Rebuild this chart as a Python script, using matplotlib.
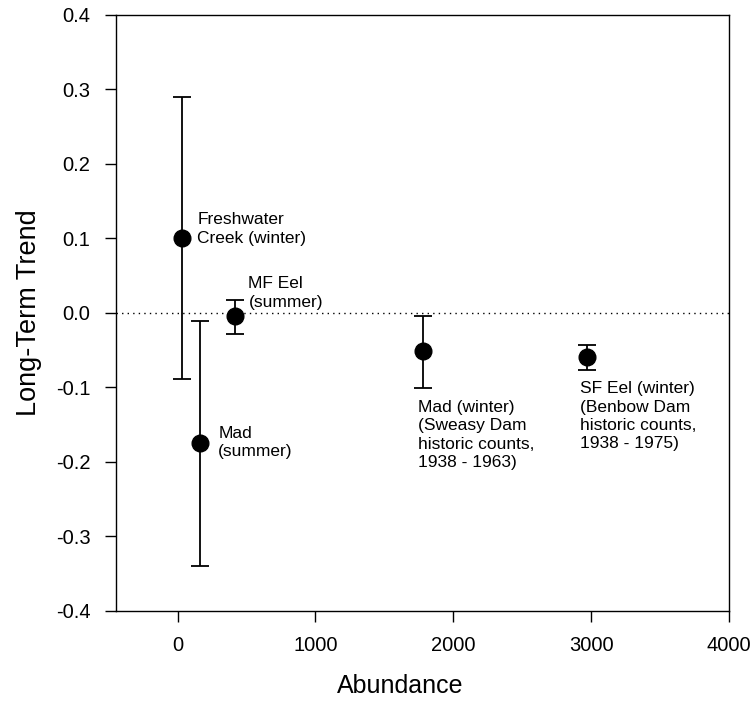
import numpy as np
import matplotlib
matplotlib.use('Agg')
import matplotlib.pyplot as plt

plt.rcParams['font.family'] = ['Liberation Sans', 'DejaVu Sans']

# abundance, trend, upper and lower limits of each estimate
abundance = [32, 160, 418, 1784, 2969]
trend = [0.100, -0.175, -0.005, -0.052, -0.060]
upper = [0.290, -0.011, 0.017, -0.004, -0.043]
lower = [-0.089, -0.340, -0.028, -0.101, -0.077]

labels = ['Freshwater\nCreek (winter)',
          'Mad\n(summer)',
          'MF Eel\n(summer)',
          'Mad (winter)\n(Sweasy Dam\nhistoric counts,\n1938 - 1963)',
          'SF Eel (winter)\n(Benbow Dam\nhistoric counts,\n1938 - 1975)']
label_x = [143, 296, 514, 1746, 2920]
label_y = [0.135, -0.152, 0.049, -0.117, -0.092]

xticks = [0, 1000, 2000, 3000, 4000]
yticks = [-0.4, -0.3, -0.2, -0.1, 0.0, 0.1, 0.2, 0.3, 0.4]

trend = np.array(trend)
yerr = [trend - np.array(lower), np.array(upper) - trend]

fig = plt.figure(figsize=(7.54, 7.02), dpi=100)
ax = fig.add_axes([0.1532, 0.130, 0.8136, 0.849])

ax.axhline(0, color='black', lw=1, ls=(0, (1, 3)))
ax.errorbar(abundance, trend, yerr=yerr, fmt='o', color='black', ms=12,
            ecolor='black', elinewidth=1.3, capsize=6.7, capthick=1.3)

for lx, ly, t in zip(label_x, label_y, labels):
    ax.text(lx, ly, t, fontsize=12.5, va='top', ha='left', linespacing=1.28)

ax.set_xlim(-450, 4000)
ax.set_ylim(-0.4, 0.4)
ax.set_xticks(xticks)
ax.set_yticks(yticks)
ax.set_yticklabels(['%.1f' % v for v in yticks])
ax.tick_params(direction='out', length=8, width=1, labelsize=14.5, pad=10)
for s in ax.spines.values():
    s.set_linewidth(1)

ax.set_xlabel('Abundance', fontsize=18)
ax.xaxis.set_label_coords(0.464, -0.106)
ax.set_ylabel('Long-Term Trend', fontsize=19.5, labelpad=10)

fig.savefig('out.png', dpi=100)
